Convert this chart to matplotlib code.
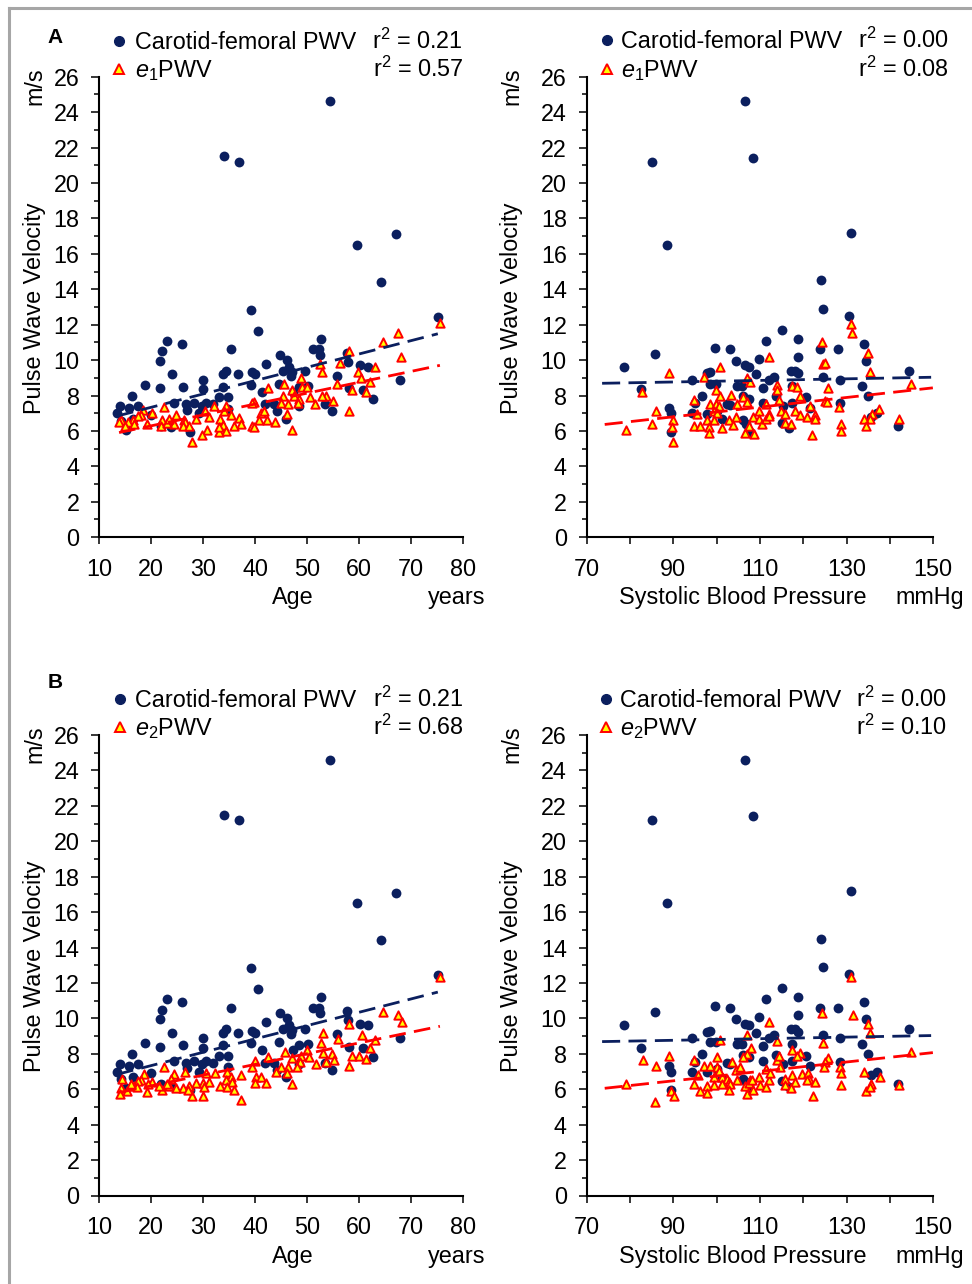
import numpy as np
import matplotlib.pyplot as plt
from matplotlib.lines import Line2D
from matplotlib.ticker import MultipleLocator

plt.rcParams['font.family'] = ['Liberation Sans', 'DejaVu Sans']
plt.rcParams['mathtext.fontset'] = 'custom'
plt.rcParams['mathtext.rm'] = 'Liberation Sans'
plt.rcParams['mathtext.it'] = 'Liberation Sans:italic'

# ---- carotid-femoral PWV against age (same in A and B) ----
age_cf = [54.3, 34.0, 36.9, 59.5, 67.1, 64.2, 39.1, 75.1, 40.6, 23.1,
          25.9, 22.0, 21.6, 35.4, 23.9, 18.8, 21.6, 26.0, 29.9, 29.9,
          33.7, 34.3, 36.6, 33.7, 16.2, 14.0, 13.4, 15.8, 17.5, 15.1,
          19.9, 23.7, 24.3, 26.6, 26.8, 28.2, 27.5, 29.2, 30.5, 33.0,
          34.8, 39.4, 39.9, 39.1, 41.2, 42.1, 44.8, 46.1, 46.4, 47.1,
          45.3, 44.5, 46.8, 48.4, 49.6, 51.0, 52.2, 52.6, 52.5, 48.4,
          44.2, 41.8, 45.9, 53.4, 54.8, 55.7, 57.6, 57.8, 60.2, 61.7,
          60.8, 62.7, 67.9, 14.2, 16.4, 21.8, 29.8, 31.9, 34.8, 43.6,
          47.2, 50.2, 58.1]
cf_age = [24.6, 21.5, 21.2, 16.5, 17.1, 14.4, 12.85, 12.45, 11.65, 11.1,
          10.9, 10.5, 9.95, 10.6, 9.2, 8.6, 8.4, 8.5, 8.9, 8.35,
          9.2, 9.4, 9.2, 8.5, 8.0, 7.4, 7.0, 7.3, 7.4, 6.05,
          6.9, 6.2, 7.6, 7.5, 7.2, 7.6, 5.95, 7.0, 7.6, 7.9,
          7.9, 9.3, 9.2, 8.6, 8.2, 9.8, 10.3, 10.0, 9.6, 9.35,
          9.4, 8.65, 9.1, 8.5, 9.4, 10.6, 10.6, 11.2, 10.3, 7.4,
          7.1, 7.5, 6.7, 7.5, 7.1, 9.1, 10.4, 9.9, 9.7, 9.6,
          8.3, 7.8, 8.9, 6.55, 6.7, 6.3, 7.4, 7.5, 7.25, 7.5,
          8.2, 8.55, 8.4]

# ---- e1PWV against age (A) ----
age_e1 = [75.5, 67.4, 64.5, 68.1, 58.1, 52.5, 56.2, 52.9, 59.7, 60.4,
          63.1, 62.1, 55.8, 58.5, 61.2, 58.0, 54.9, 53.6, 52.8, 48.7,
          45.6, 48.9, 50.0, 47.1, 45.3, 47.4, 48.4, 50.5, 42.4, 51.4,
          44.9, 46.3, 48.2, 39.8, 39.4, 41.0, 41.7, 40.7, 42.3, 43.8,
          46.1, 47.1, 39.4, 39.7, 32.1, 34.3, 30.3, 31.0, 28.5, 34.0,
          35.3, 33.3, 36.9, 37.3, 35.9, 33.7, 34.3, 33.1, 33.0, 30.8,
          29.7, 27.9, 26.2, 26.5, 26.0, 27.3, 24.7, 24.3, 22.5, 22.0,
          21.8, 23.0, 23.4, 20.2, 19.1, 18.4, 18.0, 17.4, 16.5, 15.6,
          14.2, 13.8, 16.6, 15.0]
e1_age = [12.1, 11.55, 11.0, 10.2, 10.5, 9.8, 9.85, 9.35, 9.35, 9.0,
          9.6, 8.75, 8.65, 8.3, 8.2, 7.1, 7.7, 8.0, 8.0, 9.0,
          8.65, 8.5, 8.5, 8.3, 7.95, 7.95, 7.8, 7.9, 8.45, 7.5,
          7.55, 7.5, 7.55, 7.65, 7.6, 7.0, 7.1, 6.6, 6.6, 6.5,
          6.95, 6.05, 6.3, 6.25, 7.4, 7.4, 7.15, 6.8, 6.7, 7.15,
          6.9, 6.7, 6.75, 6.4, 6.3, 6.35, 6.0, 5.95, 6.25, 6.05,
          5.75, 5.4, 6.6, 6.5, 6.3, 6.3, 6.9, 6.4, 7.35, 6.6,
          6.3, 6.45, 6.7, 7.0, 6.4, 7.2, 6.9, 6.85, 6.6, 6.5,
          6.6, 6.5, 6.4, 6.3]

# ---- e2PWV against age (B) ----
age_e2 = [75.5, 64.5, 67.4, 68.2, 58.1, 53.0, 55.9, 52.7, 60.5, 63.1,
          62.1, 50.0, 53.0, 54.8, 55.1, 53.5, 58.5, 59.9, 61.3, 58.0,
          51.6, 50.4, 45.7, 48.7, 48.5, 48.0, 47.1, 46.3, 45.0, 42.5,
          39.9, 39.4, 40.1, 41.0, 39.9, 42.0, 43.9, 46.1, 47.1, 37.2,
          37.3, 34.6, 35.3, 34.3, 35.6, 33.3, 34.6, 35.9, 32.3, 30.5,
          29.9, 31.1, 30.2, 30.0, 27.9, 28.5, 27.3, 26.0, 27.0, 26.4,
          24.3, 23.7, 23.4, 24.8, 22.1, 22.5, 20.2, 19.3, 19.1, 18.6,
          18.0, 17.4, 16.7, 17.2, 16.1, 14.3, 14.2, 15.4, 14.0, 21.5,
          23.1]
e2_age = [12.35, 10.35, 10.2, 9.8, 9.7, 9.15, 8.85, 8.6, 9.05, 8.8,
          8.3, 8.2, 8.05, 8.0, 7.65, 7.55, 7.9, 7.9, 7.7, 7.3,
          7.45, 7.8, 8.1, 7.9, 7.55, 7.25, 7.75, 7.25, 7.25, 7.8,
          7.6, 7.25, 6.7, 6.7, 6.35, 6.35, 6.95, 6.9, 6.3, 6.8,
          5.4, 7.0, 6.7, 6.5, 6.4, 6.2, 6.15, 5.95, 6.9, 6.9,
          6.35, 6.4, 6.15, 5.6, 5.6, 6.35, 6.2, 6.05, 5.95, 7.0,
          6.85, 6.55, 6.2, 6.05, 5.95, 7.25, 6.4, 6.3, 5.85, 6.85,
          6.5, 6.45, 6.2, 6.1, 6.3, 6.6, 6.05, 5.9, 5.75, 6.2,
          6.3]

# ---- carotid-femoral PWV against systolic blood pressure (same in A and B) ----
sbp_cf = [106.6, 85.1, 108.3, 88.6, 131.1, 124.1, 124.6, 130.6, 115.1, 118.8,
          111.4, 99.6, 103.1, 123.8, 128.0, 85.7, 118.8, 133.9, 134.4, 109.7,
          104.4, 106.6, 107.5, 78.6, 98.5, 97.8, 117.1, 118.1, 118.9, 109.1,
          113.3, 112.1, 144.5, 94.3, 124.6, 128.4, 98.5, 99.8, 104.7, 105.8,
          110.8, 117.3, 133.6, 82.5, 96.6, 134.9, 102.4, 103.1, 95.1, 106.1,
          107.4, 110.8, 113.6, 115.4, 117.3, 120.6, 121.5, 128.4, 89.0, 89.6,
          94.3, 97.8, 100.1, 101.2, 106.2, 106.8, 115.0, 116.6, 107.7, 89.6,
          141.8, 136.9, 135.7]
cf_sbp = [24.6, 21.2, 21.4, 16.5, 17.2, 14.5, 12.9, 12.5, 11.7, 11.2,
          11.1, 10.7, 10.6, 10.6, 10.6, 10.35, 10.2, 10.9, 9.95, 10.05,
          9.95, 9.7, 9.6, 9.6, 9.3, 9.25, 9.4, 9.4, 9.25, 9.2,
          9.05, 8.9, 9.4, 8.9, 9.05, 8.9, 8.65, 8.65, 8.55, 8.55,
          8.45, 8.55, 8.55, 8.35, 8.0, 8.0, 7.5, 7.45, 7.55, 7.95,
          7.8, 7.6, 7.95, 7.4, 7.6, 7.9, 7.3, 7.55, 7.3, 7.0,
          7.0, 6.95, 7.15, 6.65, 6.6, 6.4, 6.45, 6.15, 5.95, 5.95,
          6.3, 7.0, 6.8]

# ---- e1PWV against systolic blood pressure (A) ----
sbp_e1 = [131.0, 131.3, 124.4, 134.9, 112.2, 124.6, 125.1, 89.1, 100.8, 97.0,
          107.0, 107.8, 135.3, 82.8, 99.9, 100.8, 103.4, 114.0, 114.0, 117.5,
          118.5, 119.2, 125.7, 144.9, 94.7, 98.4, 99.9, 100.5, 106.2, 107.0,
          104.7, 111.4, 114.5, 125.0, 125.4, 121.5, 128.3, 86.1, 95.5, 99.3,
          100.1, 104.4, 109.7, 112.2, 114.8, 115.8, 118.1, 119.2, 120.8, 122.7,
          122.7, 137.5, 135.9, 135.3, 133.9, 142.2, 85.1, 90.0, 89.7, 94.7,
          96.1, 97.8, 98.2, 98.2, 99.3, 101.2, 102.8, 103.8, 106.6, 107.4,
          108.7, 108.3, 109.7, 110.4, 111.4, 112.2, 115.7, 117.1, 122.1, 128.8,
          128.8, 134.4, 79.2, 90.0]
e1_sbp = [12.05, 11.55, 11.0, 10.4, 10.2, 9.8, 9.85, 9.25, 9.6, 9.05,
          9.0, 8.75, 9.3, 8.2, 8.3, 7.95, 8.05, 8.6, 8.3, 8.55,
          8.5, 7.95, 8.4, 8.65, 7.75, 7.5, 7.5, 7.4, 7.9, 7.65,
          7.5, 7.5, 7.75, 7.7, 7.65, 7.4, 7.35, 7.15, 6.95, 7.1,
          7.0, 6.8, 7.15, 6.95, 7.15, 6.95, 7.15, 6.9, 6.8, 6.9,
          6.65, 7.25, 6.95, 6.65, 6.65, 6.7, 6.4, 6.6, 6.25, 6.3,
          6.3, 6.6, 6.25, 5.9, 6.6, 6.15, 6.6, 6.35, 5.9, 6.3,
          5.8, 6.8, 6.65, 6.4, 6.65, 6.85, 6.45, 6.4, 5.75, 6.4,
          6.0, 6.3, 6.05, 5.4]

# ---- e2PWV against systolic blood pressure (B) ----
sbp_e2 = [131.1, 131.5, 124.4, 134.9, 135.3, 112.2, 107.0, 100.8, 114.0, 124.6,
          108.0, 107.0, 117.3, 119.2, 118.5, 144.9, 125.7, 125.0, 124.8, 89.1,
          83.1, 86.1, 94.7, 100.1, 97.0, 98.4, 100.1, 103.5, 106.2, 104.5,
          105.4, 113.9, 114.5, 114.6, 111.4, 128.4, 128.8, 133.9, 137.6, 95.7,
          99.3, 101.2, 102.4, 100.5, 102.8, 104.7, 107.7, 109.7, 112.2, 112.3,
          115.8, 117.5, 118.1, 119.6, 121.2, 121.4, 122.7, 120.9, 79.2, 94.9,
          96.1, 97.8, 97.9, 99.3, 101.2, 103.0, 102.8, 106.6, 107.0, 108.5,
          110.0, 111.4, 107.4, 108.1, 115.8, 117.1, 128.8, 134.4, 135.7, 135.3,
          142.2, 89.4, 90.1, 85.7, 122.3]
e2_sbp = [12.35, 10.2, 10.3, 9.7, 9.15, 9.8, 9.05, 8.8, 8.75, 8.6,
          8.3, 8.0, 8.2, 8.05, 7.85, 8.1, 7.75, 7.55, 7.25, 7.85,
          7.65, 7.3, 7.65, 7.8, 7.3, 7.3, 7.25, 7.55, 7.8, 7.1,
          7.25, 7.65, 7.85, 7.25, 7.15, 7.25, 6.9, 7.0, 6.7, 6.8,
          6.7, 6.7, 6.6, 7.05, 6.4, 6.5, 6.5, 6.7, 6.5, 6.9,
          6.6, 6.8, 6.4, 6.85, 6.9, 6.6, 6.4, 6.5, 6.3, 6.3,
          5.9, 6.2, 5.8, 6.25, 6.3, 6.3, 5.95, 6.2, 5.75, 5.95,
          6.25, 6.15, 6.35, 6.5, 6.25, 6.05, 6.25, 5.9, 6.3, 6.15,
          6.25, 5.9, 5.6, 5.3, 5.6]

# trendlines: (intercept, slope)
fit_age_cf = (5.83, 0.0753)
fit_age_e1 = (5.06, 0.0615)
fit_age_e2 = (4.98, 0.0606)
fit_sbp_cf = (8.36, 0.00448)
fit_sbp_e1 = (4.34, 0.0273)
fit_sbp_e2 = (4.08, 0.0266)

r2_A = [("0.21", "0.57"), ("0.00", "0.08")]
r2_B = [("0.21", "0.68"), ("0.00", "0.10")]

W, H = 972, 1284
NAVY = '#0B1F5E'
RED = '#FF0000'
YEL = '#FFFF00'
FS = 16.8

fig = plt.figure(figsize=(W / 100, H / 100), dpi=100)


def fx(x):
    return x / W


def fy(y):
    return 1 - y / H


def panel(left, top, width, height, x_cf, y_cf, x_e, y_e, fit_cf, fit_e,
          xticks, xminor, ext, dash):
    ax = fig.add_axes([fx(left), fy(top + height), width / W, height / H])
    ax.scatter(x_cf, y_cf, s=50, c=NAVY, linewidths=0, zorder=3)
    ax.scatter(x_e, y_e, marker='^', s=36, c=YEL, edgecolors=RED,
               linewidths=1.4, zorder=4)
    for xs, fit, col in ((x_cf, fit_cf, NAVY), (x_e, fit_e, RED)):
        xx = np.array([min(xs) - ext, max(xs) + ext])
        ax.plot(xx, fit[0] + fit[1] * xx, color=col, lw=2.0, dashes=dash, zorder=5)
    ax.set_xlim(xticks[0], xticks[-1])
    ax.set_ylim(0, 26)
    ax.set_xticks(xticks)
    ax.xaxis.set_minor_locator(MultipleLocator(xminor))
    ax.yaxis.set_major_locator(MultipleLocator(2))
    ax.yaxis.set_minor_locator(MultipleLocator(1))
    ax.spines[['top', 'right']].set_visible(False)
    for s in ('left', 'bottom'):
        ax.spines[s].set_linewidth(1.5)
    ax.tick_params(axis='y', which='major', length=5.8, width=1.1, pad=8.4,
                   labelsize=FS, direction='out')
    ax.tick_params(axis='y', which='minor', length=3.6, width=1.1)
    ax.tick_params(axis='x', which='both', length=4.8, width=1.1, pad=10,
                   labelsize=FS, direction='out')
    return ax


def legend(xm, xt, xr, y1, y2, elabel, r2):
    fig.add_artist(Line2D([fx(xm)], [fy(y1)], marker='o', ms=7, color=NAVY,
                          ls='none', transform=fig.transFigure))
    fig.add_artist(Line2D([fx(xm)], [fy(y2)], marker='^', ms=7, mfc=YEL,
                          mec=RED, mew=1.4, ls='none', transform=fig.transFigure))
    fig.text(fx(xt), fy(y1 + 8), 'Carotid-femoral PWV', fontsize=FS, va='baseline')
    fig.text(fx(xt), fy(y2 + 8), elabel, fontsize=FS, va='baseline')
    fig.text(fx(xr), fy(y1 + 8), 'r$^2$ = ' + r2[0], fontsize=FS, va='baseline', ha='right')
    fig.text(fx(xr), fy(y2 + 8), 'r$^2$ = ' + r2[1], fontsize=FS, va='baseline', ha='right')


def axis_text(top, bottom, xleft_axis, yl, xl_label, xunit, xl_c, xu_c):
    ycen = (top + bottom) / 2
    fig.text(fx(xleft_axis), fy(ycen + 1), 'Pulse Wave Velocity', fontsize=FS,
             rotation=90, rotation_mode='anchor', ha='center', va='baseline')
    fig.text(fx(xleft_axis), fy(top + 9), 'm/s', fontsize=FS,
             rotation=90, rotation_mode='anchor', ha='center', va='baseline')
    fig.text(fx(xl_c), fy(yl), xl_label, fontsize=FS, ha='center', va='baseline')
    fig.text(fx(xu_c), fy(yl), xunit, fontsize=FS, ha='center', va='baseline')


L_X, L_W = 99.3, 364.0
R_X, R_W = 586.5, 346.8
T_Y, B_Y, P_H = 76.7, 735.0, 460.5

age_ticks = np.arange(10, 81, 10)
sbp_ticks = np.arange(70, 151, 20)
left_dash = (6, 3)
right_dash = (6.5, 3)

for top, x_e_age, e_age, fit_e_age, x_e_sbp, e_sbp, fit_e_sbp in (
        (T_Y, age_e1, e1_age, fit_age_e1, sbp_e1, e1_sbp, fit_sbp_e1),
        (B_Y, age_e2, e2_age, fit_age_e2, sbp_e2, e2_sbp, fit_sbp_e2)):
    panel(L_X, top, L_W, P_H, age_cf, cf_age, x_e_age, e_age, fit_age_cf, fit_e_age,
          age_ticks, 10, 0, left_dash)
    panel(R_X, top, R_W, P_H, sbp_cf, cf_sbp, x_e_sbp, e_sbp, fit_sbp_cf, fit_e_sbp,
          sbp_ticks, 10, 5, right_dash)
    axis_text(top, top + P_H, 41, top + P_H + 67, 'Age', 'years', 293, 456.5)
    axis_text(top, top + P_H, 518, top + P_H + 67, 'Systolic Blood Pressure', 'mmHg', 743, 930)

legend(119, 135, 463, 41, 69, r'$\mathit{e_1}$PWV', r2_A[0])
legend(607, 621, 949, 40, 69, r'$\mathit{e_1}$PWV', r2_A[1])
legend(120, 135, 464, 699, 727, r'$\mathit{e}_2$PWV', r2_B[0])
legend(606, 620, 947, 699, 727, r'$\mathit{e}_2$PWV', r2_B[1])

fig.text(fx(55), fy(43), 'A', fontsize=15, fontweight='bold', ha='center', va='baseline')
fig.text(fx(55), fy(688), 'B', fontsize=15, fontweight='bold', ha='center', va='baseline')

# grey frame round the figure (top and left edges are visible)
fig.add_artist(Line2D([fx(9), fx(9)], [fy(8), 0], color='#A6A6A6', lw=2.2,
                      transform=fig.transFigure))
fig.add_artist(Line2D([fx(9), 1], [fy(8), fy(8)], color='#A6A6A6', lw=2.2,
                      transform=fig.transFigure))

fig.savefig('out.png', dpi=100)
